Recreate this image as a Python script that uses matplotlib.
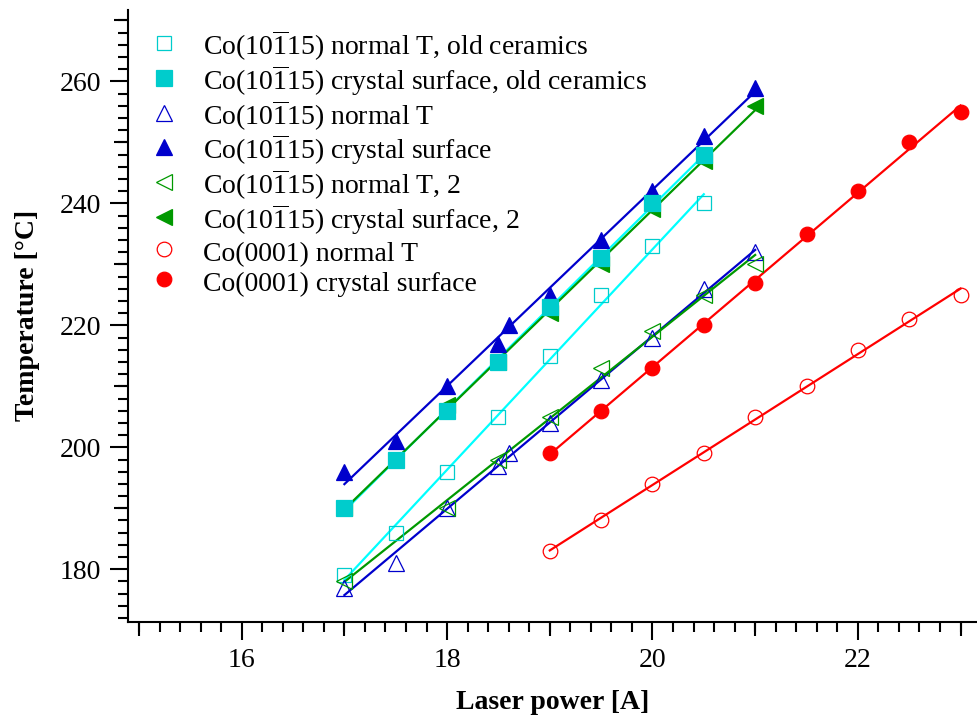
import numpy as np
import matplotlib
matplotlib.use('Agg')
import matplotlib.pyplot as plt

plt.rcParams['font.family'] = ['Liberation Serif', 'DejaVu Serif']
plt.rcParams['mathtext.fontset'] = 'custom'
plt.rcParams['mathtext.rm'] = 'Liberation Serif'
plt.rcParams['mathtext.it'] = 'Liberation Serif:italic'
plt.rcParams['mathtext.bf'] = 'Liberation Serif:bold'

# laser current [A] and temperatures [C]
x_old = [17, 17.5, 18, 18.5, 19, 19.5, 20, 20.5]
t_old_normal = [179, 186, 196, 205, 215, 225, 233, 240]
t_old_surface = [190, 198, 206, 214, 223, 231, 240, 248]

x_blue = [17, 17.5, 18, 18.5, 18.6, 19, 19.5, 20, 20.5, 21]
t_blue_normal = [177, 181, 190, 197, 199, 204, 211, 218, 226, 232]
t_blue_surface = [196, 201, 210, 217, 220, 225, 234, 242, 251, 259]

x_green = [17, 18, 18.5, 19, 19.5, 20, 20.5, 21]
t_green_normal = [178, 190, 198, 205, 213, 219, 225, 230]
t_green_surface = [190, 207, 214, 222, 230, 239, 247, 256]

x_red = [19, 19.5, 20, 20.5, 21, 21.5, 22, 22.5, 23]
t_red_normal = [183, 188, 194, 199, 205, 210, 216, 221, 225]
t_red_surface = [199, 206, 213, 220, 227, 235, 242, 250, 255]

co = r'Co(10$\overline{1}$15)'
labels = [co + ' normal T, old ceramics',
          co + ' crystal surface, old ceramics',
          co + ' normal T',
          co + ' crystal surface',
          co + ' normal T, 2',
          co + ' crystal surface, 2',
          'Co(0001) normal T',
          'Co(0001) crystal surface']

cyan_line = '#00ffff'
cyan_mark = '#00cccc'
blue = '#0000cc'
green = '#009900'
red = '#ff0000'

series = [
    (x_old, t_old_normal, 's', cyan_mark, 'none', cyan_line, 10),
    (x_old, t_old_surface, 's', cyan_mark, cyan_mark, cyan_line, 11),
    (x_blue, t_blue_normal, '^', blue, 'none', blue, 11.5),
    (x_blue, t_blue_surface, '^', blue, blue, blue, 11.5),
    (x_green, t_green_normal, '<', green, 'none', green, 11.5),
    (x_green, t_green_surface, '<', green, green, green, 11.5),
    (x_red, t_red_normal, 'o', red, 'none', red, 10.5),
    (x_red, t_red_surface, 'o', red, red, red, 10.5),
]

fig = plt.figure(figsize=(9.78, 7.18), dpi=100)
ax = fig.add_axes([0.1306, 0.1341, 0.8694, 0.8519])

# linear fits
for xs, ts, m, ec, fc, lc, ms in series:
    k, b = np.polyfit(xs, ts, 1)
    xx = np.array([min(xs), max(xs)])
    ax.plot(xx, k * xx + b, color=lc, lw=1.6, zorder=2)

zord = [3, 6, 4, 5, 4, 5, 4, 5]
handles = []
for (xs, ts, m, ec, fc, lc, ms), lab, z in zip(series, labels, zord):
    h, = ax.plot(xs, ts, ls='none', marker=m, ms=ms, mec=ec, mfc=fc,
                 mew=0.9, label=lab, zorder=z)
    handles.append(h)

ax.set_xlim(14.89, 23.17)
ax.set_ylim(171.4, 271.7)
ax.set_xticks([16, 18, 20, 22])
ax.set_xticks(np.arange(15, 23.01, 0.2), minor=True)
ax.set_yticks([180, 200, 220, 240, 260])
ax.set_yticks(np.arange(172, 271, 2), minor=True)

for s in ['top', 'right']:
    ax.spines[s].set_visible(False)
for s in ['left', 'bottom']:
    ax.spines[s].set_linewidth(1.5)

ax.tick_params(which='major', length=13, width=1.5, labelsize=20, pad=6)
ax.tick_params(which='minor', length=7.5, width=1.5)

# medium ticks at odd amps and every 10 degrees
secx = ax.secondary_xaxis('bottom')
secx.set_xticks([15, 17, 19, 21, 23])
secx.tick_params(length=10, width=1.5, labelbottom=False)
secx.spines['bottom'].set_visible(False)
secy = ax.secondary_yaxis('left')
secy.set_yticks([190, 210, 230, 250, 270])
secy.tick_params(length=10, width=1.5, labelleft=False)
secy.spines['left'].set_visible(False)

ax.set_xlabel('Laser power [A]', fontsize=20, fontweight='bold', labelpad=12)
ax.set_ylabel('Temperature [°C]', fontsize=20, fontweight='bold', labelpad=14)

ax.legend(handles=handles, loc='upper left', bbox_to_anchor=(0.1534, 0.9604),
          bbox_transform=fig.transFigure, frameon=False, fontsize=20,
          handlelength=1.0, handleheight=1.26, handletextpad=0.9,
          labelspacing=0.0, borderpad=0, borderaxespad=0, numpoints=1)

fig.savefig('out.png', dpi=100)
